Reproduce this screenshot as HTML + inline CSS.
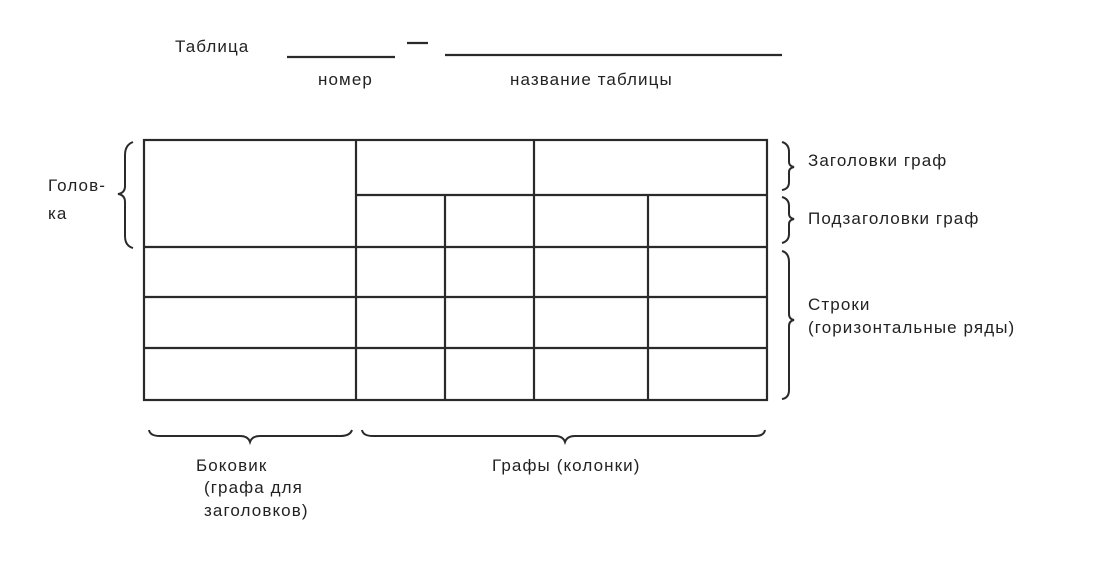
<!DOCTYPE html>
<html><head><meta charset="utf-8"><style>
body{margin:0;background:#fff;}
svg text{font-family:"Liberation Sans","DejaVu Sans",sans-serif;font-size:17px;letter-spacing:1.1px;fill:#222;}
</style></head><body>
<svg width="1099" height="560" viewBox="0 0 1099 560" xmlns="http://www.w3.org/2000/svg">
<g stroke="#2a2a2a" stroke-width="2.2" fill="none">
<line x1="287" y1="57" x2="395" y2="57"/>
<line x1="407" y1="43" x2="428" y2="43"/>
<line x1="445" y1="55" x2="782" y2="55"/>
<rect x="144" y="140" width="623" height="260"/>
<line x1="356" y1="195" x2="767" y2="195"/>
<line x1="144" y1="247" x2="767" y2="247"/>
<line x1="144" y1="297" x2="767" y2="297"/>
<line x1="144" y1="348" x2="767" y2="348"/>
<line x1="356" y1="140" x2="356" y2="400"/>
<line x1="534" y1="140" x2="534" y2="400"/>
<line x1="445" y1="195" x2="445" y2="400"/>
<line x1="648" y1="195" x2="648" y2="400"/>
</g>
<g stroke="#2a2a2a" stroke-width="2" fill="none">
<path d="M133 142 Q125 145 125 155 L125 186 Q125 193 118 194 Q125 195 125 202 L125 236 Q125 246 133 248"/>
<path d="M782 142 Q789 144 789 152 L789 162 Q789 166 794 167 Q789 168 789 172 L789 182 Q789 189 782 190"/>
<path d="M782 197 Q789 199 789 206 L789 214 Q789 218 794 219 Q789 220 789 224 L789 234 Q789 241 782 243"/>
<path d="M782 251 Q789 253 789 262 L789 314 Q789 319 794 320 Q789 321 789 326 L789 390 Q789 398 782 399"/>
<path d="M149 430 Q150 436 160 436 L240 436 Q248 436 250 442 Q252 436 260 436 L340 436 Q350 436 352 430"/>
<path d="M362 430 Q363 436 373 436 L555 436 Q563 436 565 442 Q567 436 575 436 L755 436 Q764 436 765 430"/>
</g>
<text x="175" y="52">Таблица</text>
<text x="318" y="85">номер</text>
<text x="510" y="85">название таблицы</text>
<text x="48" y="191">Голов-</text>
<text x="48" y="219">ка</text>
<text x="808" y="166">Заголовки граф</text>
<text x="808" y="224">Подзаголовки граф</text>
<text x="808" y="310">Строки</text>
<text x="808" y="333">(горизонтальные ряды)</text>
<text x="196" y="471">Боковик</text>
<text x="204" y="493">(графа для</text>
<text x="204" y="516">заголовков)</text>
<text x="492" y="471">Графы (колонки)</text>
</svg>
</body></html>
